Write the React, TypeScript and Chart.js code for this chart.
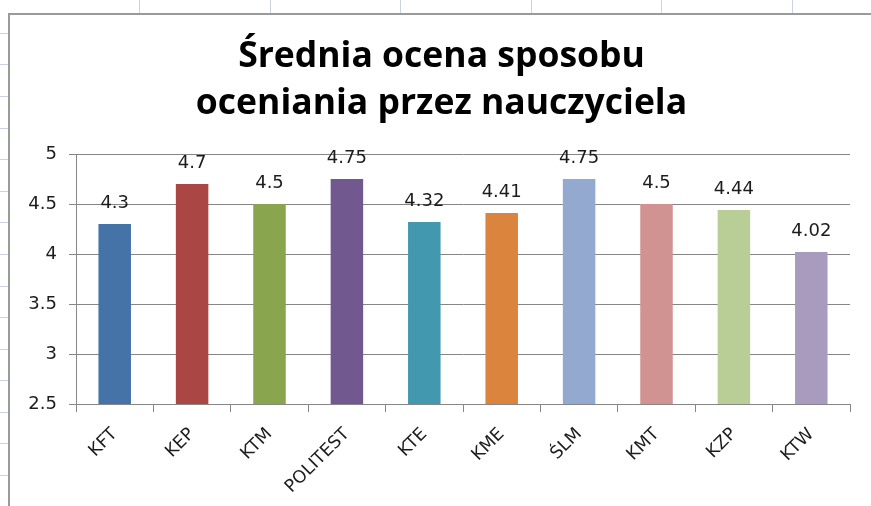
import { useEffect, useRef } from 'react';
import { Chart, registerables } from 'chart.js';

Chart.register(...registerables);

const titleLines = ['Średnia ocena sposobu', 'oceniania przez nauczyciela'];
const categories = ['KFT', 'KEP', 'KTM', 'POLITEST', 'KTE', 'KME', 'ŚLM', 'KMT', 'KZP', 'KTW'];
const values = [4.3, 4.7, 4.5, 4.75, 4.32, 4.41, 4.75, 4.5, 4.44, 4.02];
const valueLabels = ['4.3', '4.7', '4.5', '4.75', '4.32', '4.41', '4.75', '4.5', '4.44', '4.02'];
const barColors = ['#4572A7', '#AA4643', '#89A54E', '#71588F', '#4198AF', '#DB843D', '#93A9CF', '#D19392', '#B9CD96', '#A99BBD'];
const yMin = 2.5;
const yMax = 5;
const yStep = 0.5;

// spreadsheet cell gridlines visible around the chart object
const sheetColumnLines = [139, 270, 400, 531, 661, 792];
const sheetRowLines = [33, 64, 96, 128, 159, 191, 222, 254, 286, 317, 349, 380, 412, 443, 475];

const GRID = '#868686';
const TEXT = '#1c1c1c';

export default function App() {
  const ref = useRef<HTMLCanvasElement>(null);

  useEffect(() => {
    document.body.style.margin = '0';
    const canvas = ref.current;
    if (!canvas) return;

    const titlePlugin = {
      id: 'twoLineTitle',
      afterDraw(chart: any) {
        const { ctx, width } = chart;
        ctx.save();
        ctx.font = 'bold 35.5px "Open Sans"';
        ctx.fillStyle = '#000';
        ctx.textAlign = 'center';
        ctx.textBaseline = 'alphabetic';
        titleLines.forEach((line, i) => ctx.fillText(line, width / 2 + 1, 52 + i * 46.5));
        ctx.restore();
      },
    };

    const valueLabelPlugin = {
      id: 'valueLabels',
      afterDatasetsDraw(chart: any) {
        const { ctx } = chart;
        const meta = chart.getDatasetMeta(0);
        ctx.save();
        ctx.font = '18px "DejaVu Sans"';
        ctx.fillStyle = TEXT;
        ctx.textAlign = 'center';
        ctx.textBaseline = 'alphabetic';
        meta.data.forEach((bar: any, i: number) => {
          ctx.fillText(valueLabels[i], bar.x, bar.y - 16);
        });
        ctx.restore();
      },
    };

    const chart = new Chart(canvas, {
      type: 'bar',
      data: {
        labels: categories,
        datasets: [
          {
            data: values,
            backgroundColor: barColors,
            borderWidth: 0,
            categoryPercentage: 1,
            barPercentage: 0.42,
          },
        ],
      },
      options: {
        animation: false,
        responsive: false,
        devicePixelRatio: 1,
        layout: { padding: { top: 139, right: 21, bottom: 0, left: 0 } },
        plugins: {
          legend: { display: false },
          title: { display: false },
          tooltip: { enabled: false },
        },
        scales: {
          x: {
            offset: true,
            grid: {
              display: true,
              drawOnChartArea: false,
              drawTicks: true,
              tickLength: 8,
              color: GRID,
              offset: true,
            },
            border: { display: true, color: GRID },
            ticks: {
              minRotation: 45,
              maxRotation: 45,
              autoSkip: false,
              padding: 12,
              color: TEXT,
              font: { family: 'DejaVu Sans', size: 17.5 },
            },
            afterFit(scale: any) {
              scale.height = 102;
            },
          },
          y: {
            min: yMin,
            max: yMax,
            grid: {
              color: GRID,
              drawTicks: true,
              tickLength: 7,
            },
            border: { display: true, color: GRID },
            ticks: {
              stepSize: yStep,
              padding: 12,
              color: TEXT,
              font: { family: 'DejaVu Sans', size: 18 },
              callback: (v: any) => String(Number(v)),
            },
            afterFit(scale: any) {
              scale.width = 66;
            },
          },
        },
      },
      plugins: [titlePlugin, valueLabelPlugin],
    });

    return () => chart.destroy();
  }, []);

  return (
    <div style={{ position: 'relative', width: 871, height: 506, overflow: 'hidden', background: '#fff' }}>
      {sheetColumnLines.map((x) => (
        <div key={'c' + x} style={{ position: 'absolute', left: x, top: 0, width: 1, height: 13, background: '#c9d3e3' }} />
      ))}
      {sheetRowLines.map((y) => (
        <div key={'r' + y} style={{ position: 'absolute', left: 0, top: y, width: 8, height: 1, background: '#c9d3e3' }} />
      ))}
      <div
        style={{
          position: 'absolute',
          left: 8,
          top: 13,
          width: 863,
          height: 493,
          borderTop: '2px solid #9a9a9a',
          borderLeft: '2px solid #9a9a9a',
          background: '#fff',
        }}
      >
        <canvas ref={ref} width={861} height={491} style={{ display: 'block', width: 861, height: 491 }} />
      </div>
    </div>
  );
}
